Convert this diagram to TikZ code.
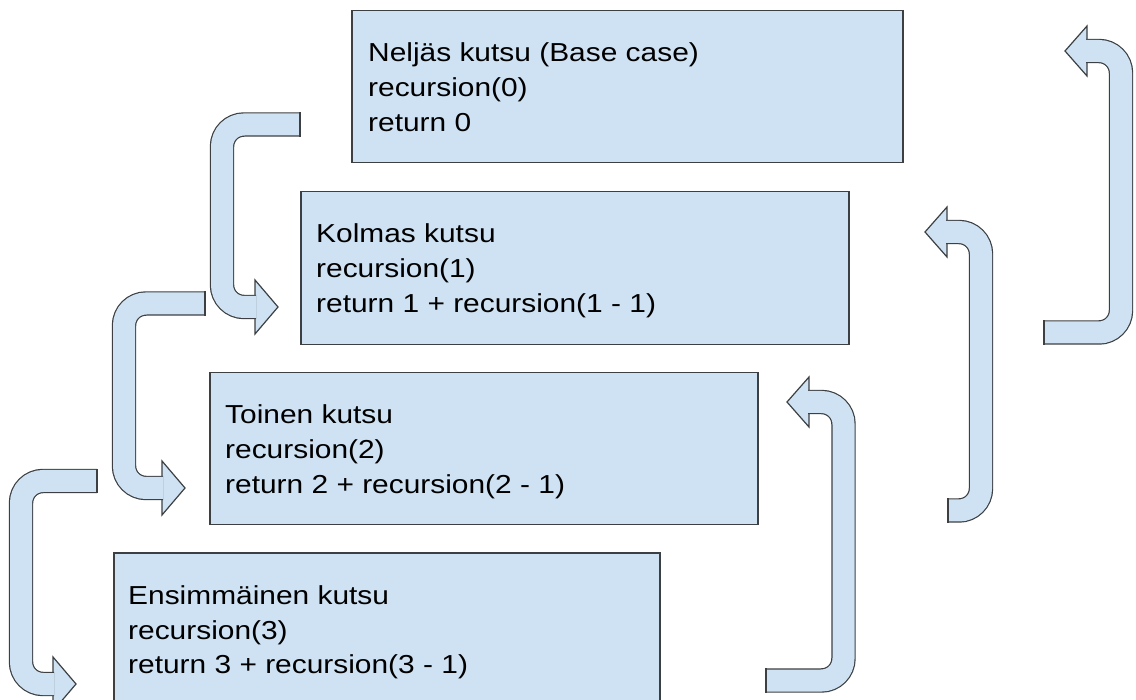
\documentclass[tikz,border=0pt]{standalone}
\usepackage{fontspec}
\setmainfont{Liberation Sans}[FakeStretch=1.15]
\definecolor{cellblue}{HTML}{CFE2F3}
\definecolor{edgegray}{HTML}{3C4043}
\begin{document}
\begin{tikzpicture}[x=1pt,y=-1pt,
  callbox/.style={draw=edgegray, line width=1.5pt, fill=cellblue, anchor=north west, inner sep=0pt},
  calltext/.style={anchor=base west, inner sep=0pt, font=\fontsize{26}{35}\selectfont},
  bandline/.style={draw=edgegray, line width=1.2pt, double=cellblue, double distance=22pt,
                   rounded corners=22pt, line cap=butt},
  headtip/.style={draw=edgegray, line width=1.2pt, fill=cellblue, line join=miter},
  tailcap/.style={draw=edgegray, line width=1.2pt}]

\useasboundingbox (0,0) rectangle (1136,700);
\clip (0,0) rectangle (1136,700);
\fill[white] (0,0) rectangle (1136,700);

% call frames, from the base case down to the first call
\node[callbox, minimum width=551pt, minimum height=152pt] (b4) at (351,10) {};
\node[callbox, minimum width=548pt, minimum height=153pt] (b3) at (300,191) {};
\node[callbox, minimum width=548pt, minimum height=152pt] (b2) at (209,372) {};
\node[callbox, minimum width=546pt, minimum height=160pt] (b1) at (113,552) {};

\node[calltext] (t4) at ([shift={(17,52)}]b4.north west)
  {\parbox[t]{520pt}{Neljäs kutsu (Base case)\\recursion(0)\\return 0}};
\node[calltext] (t3) at ([shift={(16,52)}]b3.north west)
  {\parbox[t]{520pt}{Kolmas kutsu\\recursion(1)\\return 1 + recursion(1 - 1)}};
\node[calltext] (t2) at ([shift={(16,52)}]b2.north west)
  {\parbox[t]{520pt}{Toinen kutsu\\recursion(2)\\return 2 + recursion(2 - 1)}};
\node[calltext] (t1) at ([shift={(15,52)}]b1.north west)
  {\parbox[t]{520pt}{Ensimmäinen kutsu\\recursion(3)\\return 3 + recursion(3 - 1)}};

% descending calls: bent arrows on the left
\coordinate (d1tail) at (300,124.5);
\coordinate (d1tip) at (278,307);
\draw[headtip] (255,280) -- (d1tip) -- (255,334) -- cycle;
\draw[bandline] (d1tail) -- (222,124.5) -- (222,307) -- (256,307);
\draw[tailcap] ([yshift=-12.2pt]d1tail) -- ([yshift=12.2pt]d1tail);

\coordinate (d2tail) at (205,303.5);
\coordinate (d2tip) at (185,488);
\draw[headtip] (162,461) -- (d2tip) -- (162,515) -- cycle;
\draw[bandline] (d2tail) -- (124,303.5) -- (124,488) -- (163,488);
\draw[tailcap] ([yshift=-12.2pt]d2tail) -- ([yshift=12.2pt]d2tail);

\coordinate (d3tail) at (97,481);
\coordinate (d3tip) at (76,684);
\draw[headtip] (53,657) -- (d3tip) -- (53,711) -- cycle;
\draw[bandline] (d3tail) -- (21,481) -- (21,684) -- (54,684);
\draw[tailcap] ([yshift=-12.2pt]d3tail) -- ([yshift=12.2pt]d3tail);

% returning values: bent arrows on the right
\coordinate (r1tail) at (766,680.5);
\coordinate (r1tip) at (787,402);
\draw[headtip] (809,377) -- (r1tip) -- (809,427) -- cycle;
\draw[bandline] (r1tail) -- (843.5,680.5) -- (843.5,402) -- (808,402);
\draw[tailcap] ([yshift=-12.2pt]r1tail) -- ([yshift=12.2pt]r1tail);

\coordinate (r2tail) at (948,510.5);
\coordinate (r2tip) at (925,232);
\draw[headtip] (947,207) -- (r2tip) -- (947,257) -- cycle;
\draw[bandline] (r2tail) -- (981,510.5) -- (981,232) -- (946,232);
\draw[tailcap] ([yshift=-12.2pt]r2tail) -- ([yshift=12.2pt]r2tail);

\coordinate (r3tail) at (1044,332.5);
\coordinate (r3tip) at (1065,51);
\draw[headtip] (1087,26) -- (r3tip) -- (1087,76) -- cycle;
\draw[bandline] (r3tail) -- (1121,332.5) -- (1121,51) -- (1086,51);
\draw[tailcap] ([yshift=-12.2pt]r3tail) -- ([yshift=12.2pt]r3tail);

\end{tikzpicture}
\end{document}
